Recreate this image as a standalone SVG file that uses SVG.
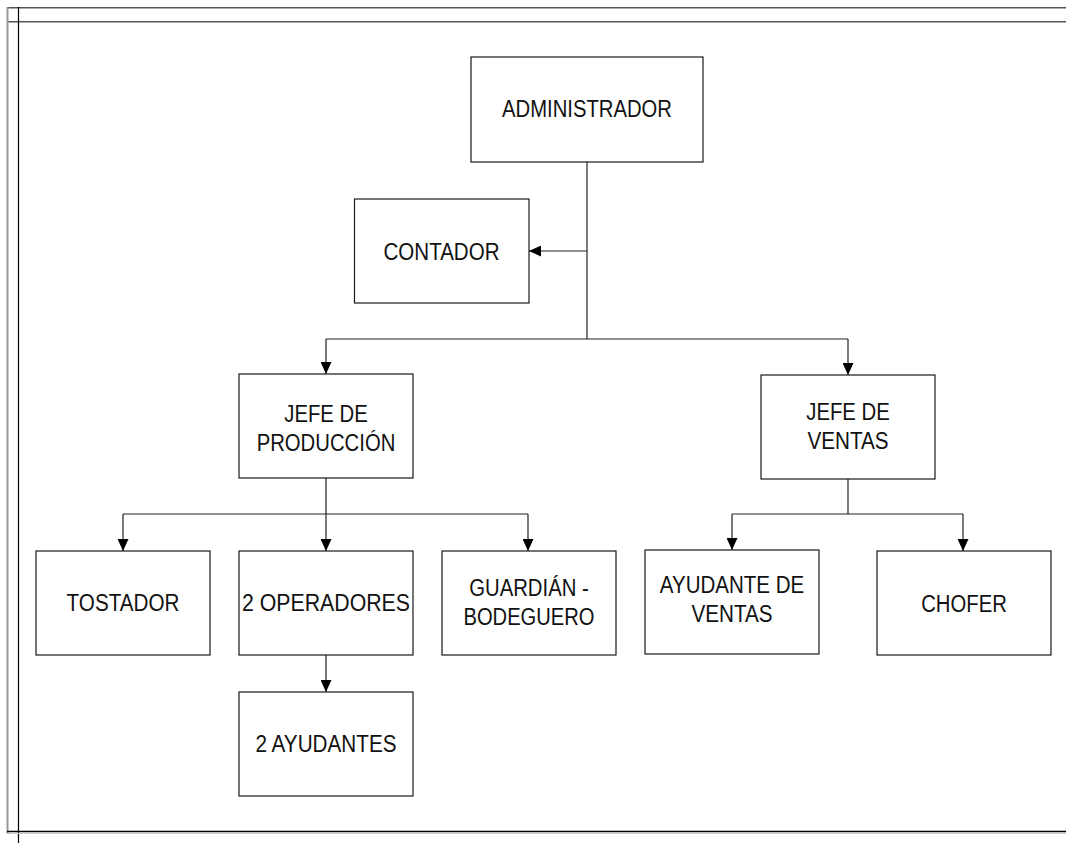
<svg xmlns="http://www.w3.org/2000/svg" width="1066" height="843" viewBox="0 0 1066 843">
  <defs>
    <marker id="arrow" viewBox="0 0 12 11" refX="12" refY="5.5" markerWidth="12" markerHeight="11" markerUnits="userSpaceOnUse" orient="auto">
      <path d="M0,0 L12,5.5 L0,11 z" fill="#000"/>
    </marker>
    <style>
      .box { fill: #fff; stroke: #1a1a1a; stroke-width: 1.2; }
      .lbl { font-family: "Liberation Sans Narrow", "Liberation Sans", Arial, sans-serif; font-size: 23.5px; fill: #111; text-anchor: middle; }
      .con { fill: none; stroke: #222; stroke-width: 1.2; }
      .arr { marker-end: url(#arrow); }
    </style>
  </defs>

  <rect width="1066" height="843" fill="#fff"/>

  <!-- page frame -->
  <g id="frame">
    <line x1="7" y1="7.5" x2="1066" y2="7.5" stroke="#555" stroke-width="1"/>
    <line x1="7" y1="8.5" x2="1066" y2="8.5" stroke="#aaa" stroke-width="1"/>
    <line x1="7" y1="21.5" x2="1066" y2="21.5" stroke="#555" stroke-width="1"/>
    <line x1="7" y1="22.5" x2="1066" y2="22.5" stroke="#aaa" stroke-width="1"/>
    <line x1="7.5" y1="7" x2="7.5" y2="834" stroke="#999" stroke-width="2"/>
    <line x1="18.5" y1="7" x2="18.5" y2="843" stroke="#000" stroke-width="1.2"/>
    <line x1="7" y1="831.5" x2="1066" y2="831.5" stroke="#000" stroke-width="1.5"/>
    <line x1="7" y1="833.5" x2="1066" y2="833.5" stroke="#ccc" stroke-width="1"/>
  </g>

  <!-- connectors -->
  <g id="connectors">
    <line class="con" x1="587" y1="162" x2="587" y2="339"/>
    <line class="con arr" x1="587" y1="251" x2="529" y2="251"/>
    <line class="con" x1="326" y1="339" x2="848" y2="339"/>
    <line class="con arr" x1="326" y1="339" x2="326" y2="374"/>
    <line class="con arr" x1="848" y1="339" x2="848" y2="375"/>

    <line class="con" x1="326" y1="478" x2="326" y2="514"/>
    <line class="con" x1="123" y1="514" x2="528" y2="514"/>
    <line class="con arr" x1="123" y1="514" x2="123" y2="551"/>
    <line class="con arr" x1="326" y1="514" x2="326" y2="551"/>
    <line class="con arr" x1="528" y1="514" x2="528" y2="551"/>
    <line class="con arr" x1="326" y1="655" x2="326" y2="692"/>

    <line class="con" x1="848" y1="479" x2="848" y2="514"/>
    <line class="con" x1="732" y1="514" x2="963" y2="514"/>
    <line class="con arr" x1="732" y1="514" x2="732" y2="550"/>
    <line class="con arr" x1="963" y1="514" x2="963" y2="551"/>
  </g>

  <g id="administrador">
    <rect class="box" x="471" y="57" width="232" height="105"/>
    <text class="lbl" x="587" y="117" textLength="170" lengthAdjust="spacingAndGlyphs">ADMINISTRADOR</text>
  </g>

  <g id="contador">
    <rect class="box" x="354.5" y="199" width="174.5" height="104"/>
    <text class="lbl" x="441.5" y="260" textLength="116" lengthAdjust="spacingAndGlyphs">CONTADOR</text>
  </g>

  <g id="jefe-produccion">
    <rect class="box" x="239" y="374" width="174" height="104"/>
    <text class="lbl" x="326" y="422" textLength="83.5" lengthAdjust="spacingAndGlyphs">JEFE DE</text>
    <text class="lbl" x="326" y="451" textLength="138.7" lengthAdjust="spacingAndGlyphs">PRODUCCIÓN</text>
  </g>

  <g id="jefe-ventas">
    <rect class="box" x="761" y="375" width="174" height="104"/>
    <text class="lbl" x="848" y="420" textLength="83.5" lengthAdjust="spacingAndGlyphs">JEFE DE</text>
    <text class="lbl" x="848" y="449" textLength="81.2" lengthAdjust="spacingAndGlyphs">VENTAS</text>
  </g>

  <g id="tostador">
    <rect class="box" x="36" y="551" width="174" height="104"/>
    <text class="lbl" x="123" y="611" textLength="112.8" lengthAdjust="spacingAndGlyphs">TOSTADOR</text>
  </g>

  <g id="operadores">
    <rect class="box" x="239" y="551" width="174" height="104"/>
    <text class="lbl" x="326" y="611" textLength="168" lengthAdjust="spacingAndGlyphs">2 OPERADORES</text>
  </g>

  <g id="guardian-bodeguero">
    <rect class="box" x="442" y="551" width="174" height="104"/>
    <text class="lbl" x="529" y="596" textLength="119.5" lengthAdjust="spacingAndGlyphs">GUARDIÁN -</text>
    <text class="lbl" x="529" y="625" textLength="131" lengthAdjust="spacingAndGlyphs">BODEGUERO</text>
  </g>

  <g id="ayudantes">
    <rect class="box" x="239" y="692" width="174" height="104"/>
    <text class="lbl" x="326" y="752" textLength="141" lengthAdjust="spacingAndGlyphs">2 AYUDANTES</text>
  </g>

  <g id="ayudante-ventas">
    <rect class="box" x="645" y="550" width="174" height="104"/>
    <text class="lbl" x="732" y="593" textLength="144.4" lengthAdjust="spacingAndGlyphs">AYUDANTE DE</text>
    <text class="lbl" x="732" y="622" textLength="81.2" lengthAdjust="spacingAndGlyphs">VENTAS</text>
  </g>

  <g id="chofer">
    <rect class="box" x="877" y="551" width="174" height="104"/>
    <text class="lbl" x="964" y="612" textLength="85.7" lengthAdjust="spacingAndGlyphs">CHOFER</text>
  </g>
</svg>
